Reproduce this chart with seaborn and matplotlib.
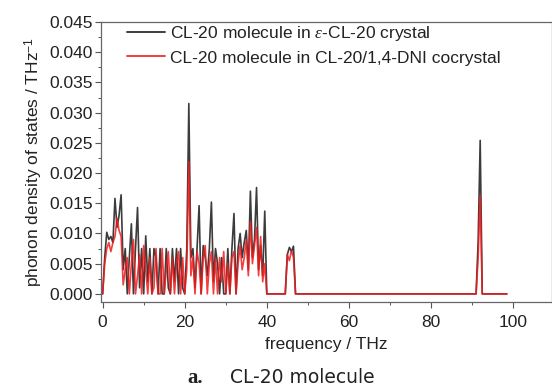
import numpy as np
import pandas as pd
import matplotlib
matplotlib.use("Agg")
import matplotlib.pyplot as plt
from matplotlib.ticker import MultipleLocator
import seaborn as sns

# ---- data ----
# low-frequency region sampled every 0.5 THz from 0 to 47.5 THz
low_freq_start, low_freq_step = 0.0, 0.5
eps_low = [0.0, 0.0060, 0.0102, 0.0090, 0.0095, 0.0085, 0.0158, 0.0110, 0.0130, 0.0164,
           0.0040, 0.0075, 0.0000, 0.0060, 0.0116, 0.0000, 0.0075, 0.0143, 0.0010, 0.0075,
           0.0000, 0.0096, 0.0020, 0.0075, 0.0000, 0.0075, 0.0060, 0.0000, 0.0075, 0.0000,
           0.0000, 0.0075, 0.0010, 0.0000, 0.0075, 0.0020, 0.0075, 0.0000, 0.0075, 0.0010,
           0.0000, 0.0075, 0.0315, 0.0060, 0.0075, 0.0010, 0.0075, 0.0146, 0.0000, 0.0080,
           0.0060, 0.0030, 0.0075, 0.0152, 0.0020, 0.0075, 0.0050, 0.0000, 0.0060, 0.0000,
           0.0000, 0.0075, 0.0000, 0.0075, 0.0133, 0.0000, 0.0075, 0.0100, 0.0060, 0.0085,
           0.0105, 0.0040, 0.0170, 0.0060, 0.0090, 0.0176, 0.0040, 0.0080, 0.0030, 0.0137,
           0.0000, 0.0000, 0.0000, 0.0000, 0.0000, 0.0000, 0.0000, 0.0000, 0.0000, 0.0000,
           0.0065, 0.0077, 0.0070, 0.0079, 0.0000, 0.0000]
co_low = [0.0, 0.0050, 0.0075, 0.0085, 0.0070, 0.0085, 0.0095, 0.0125, 0.0105, 0.0095,
          0.0015, 0.0040, 0.0060, 0.0000, 0.0050, 0.0090, 0.0000, 0.0030, 0.0065, 0.0000,
          0.0080, 0.0040, 0.0000, 0.0060, 0.0000, 0.0010, 0.0075, 0.0000, 0.0000, 0.0075,
          0.0000, 0.0040, 0.0070, 0.0000, 0.0060, 0.0000, 0.0050, 0.0070, 0.0000, 0.0060,
          0.0000, 0.0040, 0.0219, 0.0030, 0.0060, 0.0000, 0.0070, 0.0050, 0.0000, 0.0060,
          0.0080, 0.0000, 0.0050, 0.0070, 0.0000, 0.0060, 0.0000, 0.0060, 0.0020, 0.0070,
          0.0000, 0.0050, 0.0000, 0.0060, 0.0070, 0.0000, 0.0050, 0.0080, 0.0040, 0.0060,
          0.0090, 0.0030, 0.0120, 0.0050, 0.0080, 0.0110, 0.0030, 0.0095, 0.0020, 0.0050,
          0.0000, 0.0000, 0.0000, 0.0000, 0.0000, 0.0000, 0.0000, 0.0000, 0.0000, 0.0000,
          0.0065, 0.0055, 0.0072, 0.0060, 0.0000, 0.0000]
# high-frequency tail (flat zero and the spike near 92 THz)
tail_freq = [48.0, 91.0, 91.5, 92.0, 92.5, 93.0, 98.5]
eps_tail = [0.0, 0.0, 0.0086, 0.0254, 0.0, 0.0, 0.0]
co_tail = [0.0, 0.0, 0.0060, 0.0163, 0.0, 0.0, 0.0]

label_eps = r"CL-20 molecule in $\varepsilon$-CL-20 crystal"
label_co = "CL-20 molecule in CL-20/1,4-DNI cocrystal"
x_ticks = [0, 20, 40, 60, 80, 100]
y_ticks = [0.000, 0.005, 0.010, 0.015, 0.020, 0.025, 0.030, 0.035, 0.040, 0.045]

low_freq = [low_freq_start + i * low_freq_step for i in range(len(eps_low))]
freq = low_freq + tail_freq
df = pd.DataFrame({
    "freq": freq + freq,
    "dos": eps_low + eps_tail + co_low + co_tail,
    "series": [label_eps] * len(freq) + [label_co] * len(freq),
})

sns.set_style("ticks")
plt.rcParams["font.family"] = ["Liberation Sans", "DejaVu Sans"]
plt.rcParams["mathtext.fontset"] = "custom"
plt.rcParams["mathtext.it"] = "Liberation Serif:italic"

fig = plt.figure(figsize=(5.52, 3.86), dpi=100)
ax = fig.add_axes([0.183, 0.218, 0.817, 0.725])

sns.lineplot(data=df, x="freq", y="dos", hue="series",
             palette={label_eps: "#1a1a1a", label_co: "#f01c1c"},
             linewidth=1.2, ax=ax, sort=False, estimator=None)
for line in ax.lines:
    line.set_alpha(0.85)

ax.set_xlim(-0.4, 109.5)
ax.set_ylim(-0.00132, 0.045)
ax.set_xticks(x_ticks)
ax.set_yticks(y_ticks)
ax.set_yticklabels([f"{v:.3f}" for v in y_ticks])
ax.xaxis.set_minor_locator(MultipleLocator(10))
ax.yaxis.set_minor_locator(MultipleLocator(0.0025))
ax.tick_params(axis="both", which="major", direction="out", length=4, width=0.8,
               color="#555555", labelsize=12.5, labelcolor="#222222", pad=2)
ax.tick_params(axis="x", which="major", pad=5.5)
ax.tick_params(axis="both", which="minor", direction="out", length=2, width=0.7,
               color="#555555")
ax.tick_params(axis="x", which="both", top=False)
ax.tick_params(axis="y", which="both", right=False)
for s in ax.spines.values():
    s.set_color("#666666")
    s.set_linewidth(0.9)

ax.set_xlabel("frequency / THz", fontsize=12.5, color="#222222", labelpad=5)
ax.set_ylabel(r"phonon density of states / THz$^{\mathregular{-1}}$", fontsize=12.5,
              color="#222222", labelpad=3)

leg = ax.legend(loc="upper left", frameon=False, fontsize=12.5, handlelength=2.15,
                handletextpad=0.3, labelspacing=0.4, borderaxespad=0.0, borderpad=0.3,
                bbox_to_anchor=(0.047, 1.01))
for t in leg.get_texts():
    t.set_color("#222222")
for h in leg.get_lines():
    h.set_linewidth(1.4)

fig.text(0.339, 0.022, "a.", fontsize=15, fontweight="bold",
         family=["Liberation Serif", "DejaVu Serif"], ha="left", va="center", color="#222222")
fig.text(0.416, 0.022, "CL-20 molecule", fontsize=13.5,
         family=["DejaVu Sans"], ha="left", va="center", color="#222222")

fig.savefig("out.png", dpi=100)
